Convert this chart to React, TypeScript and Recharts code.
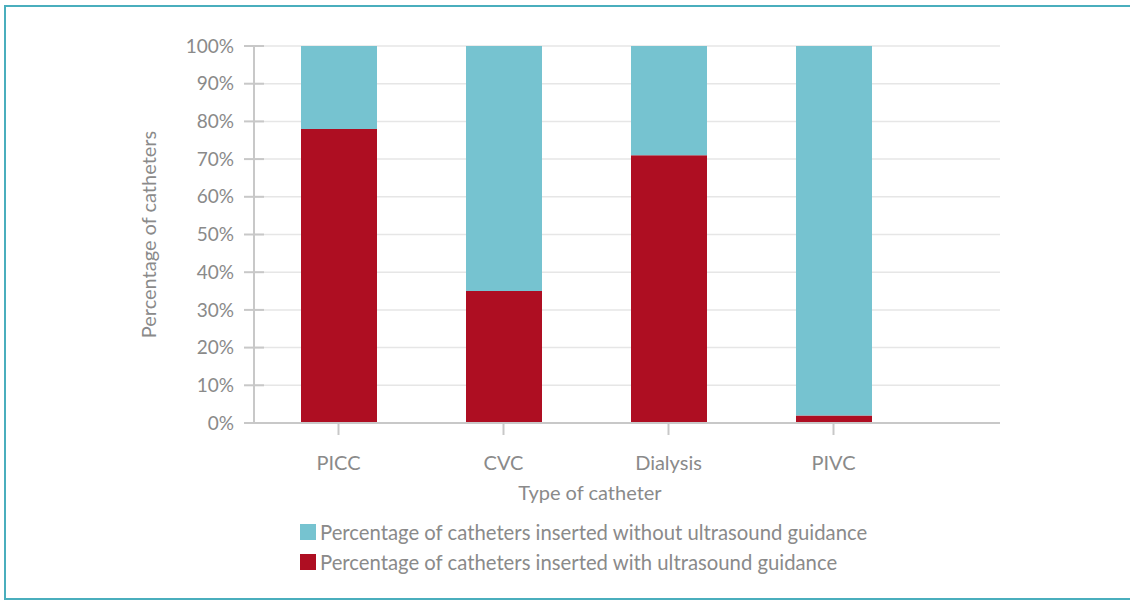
import React from "react";
import { Bar, BarChart, CartesianGrid, XAxis, YAxis } from "recharts";

const categories = ["PICC", "CVC", "Dialysis", "PIVC"];
// % of catheters inserted with / without ultrasound guidance
const withUltrasound = [78, 35, 71, 2];
const withoutUltrasound = [22, 65, 29, 98];
const yTicks = [0, 10, 20, 30, 40, 50, 60, 70, 80, 90, 100];

const WITH_LABEL = "Percentage of catheters inserted with ultrasound guidance";
const WITHOUT_LABEL = "Percentage of catheters inserted without ultrasound guidance";

const RED = "#ae0e22";
const TEAL = "#76c3d0";
const AXIS = "#c8c8c8";
const TEXT = "#8a8a8a";
const FRAME = "#4aaebd";
const FONT = "Lato, 'Open Sans', sans-serif";

const data = categories.map((name, i) => ({
  name,
  with: withUltrasound[i],
  without: withoutUltrasound[i],
}));

function YTick(props: any) {
  const { x, y, payload } = props;
  return (
    <g>
      <line x1={x + 10} x2={x + 30} y1={y} y2={y} stroke={AXIS} strokeWidth={2} />
      <text x={x} y={y} dy="0.35em" textAnchor="end" fill={TEXT} fontSize={19}>
        {payload.value}%
      </text>
    </g>
  );
}

export default function App() {
  const legendItems = [
    { color: TEAL, label: WITHOUT_LABEL },
    { color: RED, label: WITH_LABEL },
  ];

  // wrapper stays static so the absolute bits below are placed against the page itself
  return (
    <div style={{ margin: -8, width: 1130, height: 601, fontFamily: FONT }}>
      <BarChart
        width={1130}
        height={601}
        data={data}
        margin={{ top: 46, right: 130, bottom: 88, left: 150 }}
      >
        <CartesianGrid vertical={false} stroke="#e6e6e6" strokeWidth={1.5} />
        <XAxis
          dataKey="name"
          height={90}
          padding={{ left: 2, right: 84 }}
          axisLine={{ stroke: AXIS, strokeWidth: 2 }}
          tickLine={{ stroke: AXIS, strokeWidth: 2 }}
          tickSize={12}
          tickMargin={21}
          tick={{ fill: TEXT, fontSize: 20 }}
          label={{ value: "Type of catheter", position: "insideBottom", offset: 13, dx: -37, fill: TEXT, fontSize: 20 }}
        />
        <YAxis
          width={104}
          domain={[0, 100]}
          ticks={yTicks}
          interval={0}
          axisLine={{ stroke: AXIS, strokeWidth: 2 }}
          tickLine={false}
          tickSize={0}
          tickMargin={20}
          tick={<YTick />}
          label={{
            value: "Percentage of catheters",
            angle: -90,
            position: "insideLeft",
            offset: -1,
            fill: TEXT,
            fontSize: 20,
            style: { textAnchor: "middle" },
          }}
        />
        <Bar dataKey="with" name={WITH_LABEL} stackId="a" fill={RED} barSize={76} isAnimationActive={false} />
        <Bar dataKey="without" name={WITHOUT_LABEL} stackId="a" fill={TEAL} barSize={76} isAnimationActive={false} />
      </BarChart>
      <div style={{ position: "absolute", left: 300, top: 517, fontFamily: FONT }}>
        {legendItems.map((it) => (
          <div key={it.label} style={{ display: "flex", alignItems: "center", height: 30, color: TEXT, fontSize: 20.3 }}>
            <span style={{ display: "inline-block", width: 16, height: 16, background: it.color, marginRight: 4 }} />
            <span>{it.label}</span>
          </div>
        ))}
      </div>
      {/* frame lines: left, top, bottom; the right edge runs off the page */}
      <div style={{ position: "absolute", zIndex: 5, left: 4, top: 5, width: 2, height: 595, background: FRAME }} />
      <div style={{ position: "absolute", zIndex: 5, left: 4, top: 5, width: 1126, height: 2, background: FRAME }} />
      <div style={{ position: "absolute", zIndex: 5, left: 4, top: 598, width: 1126, height: 2, background: FRAME }} />
    </div>
  );
}
